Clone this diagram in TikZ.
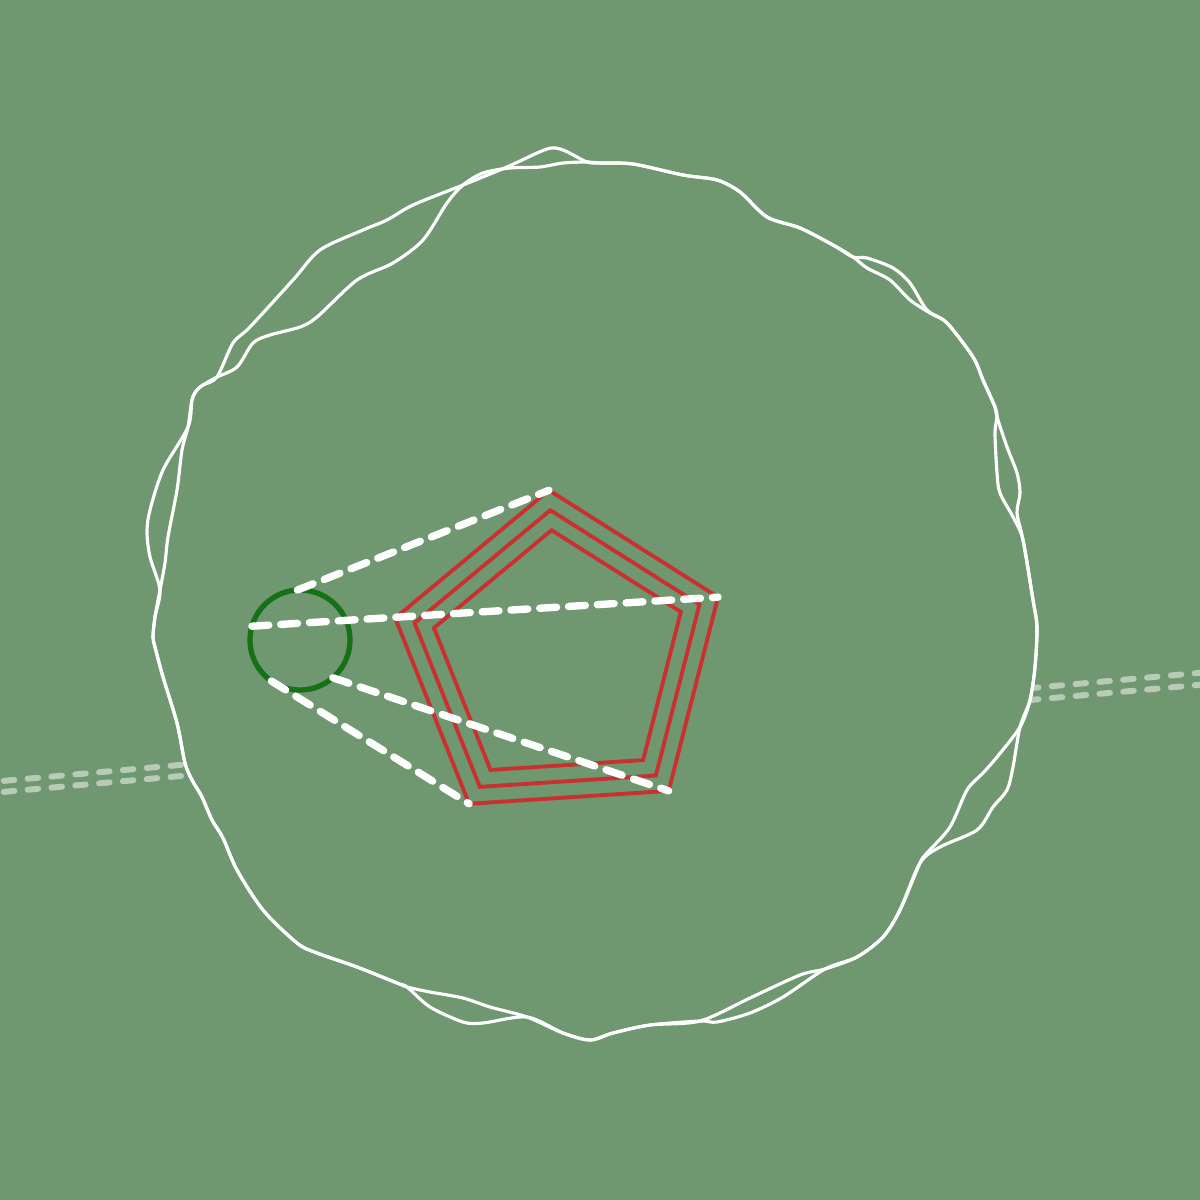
\documentclass[tikz,border=0pt]{standalone}
\usetikzlibrary{shapes.geometric}
\definecolor{fieldgreen}{HTML}{6F9770}
\definecolor{ringgreen}{HTML}{167016}
\definecolor{pentred}{HTML}{C93131}

\begin{document}
\begin{tikzpicture}[
    x=0.01cm, y=-0.01cm,
    wobble/.style={draw=white, line width=0.9pt, line join=round},
    track/.style={draw=white, draw opacity=0.5, line width=1.7pt, line cap=round, dash pattern=on 3pt off 3.8pt},
    pent/.style={regular polygon, regular polygon sides=5, regular polygon rotate=3.7, draw=pentred, line width=1.1pt, inner sep=0pt, outer sep=0pt},
    ring/.style={circle, draw=ringgreen, line width=1.5pt, minimum size=1cm, inner sep=0pt, outer sep=0pt},
    ray/.style={white, line width=2.1pt, line cap=round, dash pattern=on 4.8pt off 3.4pt}
]

\useasboundingbox (0,0) rectangle (1200,1200);
\fill[fieldgreen] (0,0) rectangle (1200,1200);

% the two faint lines behind the blob
\begin{scope}
\clip (0,0) rectangle (1200,1200);
\coordinate (tl1) at (-20,783);
\coordinate (tr1) at (1220,671);
\coordinate (tl2) at (-20,794);
\coordinate (tr2) at (1220,683);
\draw[track] (tl1) -- (tr1);
\draw[track] (tl2) -- (tr2);
\end{scope}

% outer outline
\filldraw[wobble, fill=fieldgreen] plot[smooth cycle, tension=0.5] coordinates {
  (587,162) (600,163) (633,164) (683,175) (717,180) (740,192) (767,217) (800,228)
  (833,245) (853,257) (867,258) (893,268) (910,283) (927,310) (947,323) (973,357)
  (983,380) (995,407) (997,417) (1007,447) (1017,473) (1020,493) (1017,513) (1023,540)
  (1033,600) (1037,627) (1035,667) (1030,700) (1020,727) (1013,767) (1007,790) (993,807)
  (977,830) (940,847) (920,863) (900,910) (883,937) (857,957) (825,969) (783,997)
  (750,1013) (717,1022) (700,1021) (650,1025) (613,1033) (590,1040) (563,1033) (527,1017)
  (483,1023) (463,1022) (430,1007) (407,987) (397,983) (357,967) (317,953) (297,943)
  (263,910) (237,870) (223,838) (212,820) (202,797) (192,780) (185,763) (177,723)
  (163,677) (155,647) (153,637) (155,617) (160,590) (150,557) (147,532) (150,510)
  (163,470) (188,427) (192,400) (197,390) (203,385) (217,377) (233,343) (250,327)
  (293,280) (320,250) (363,230) (387,220) (413,205) (463,185) (507,167) (547,149)
  (563,150)};

% inner outline
\draw[wobble] plot[smooth cycle, tension=0.5] coordinates {
  (587,162) (600,163) (633,164) (683,175) (717,180) (740,192) (767,217) (800,228)
  (833,245) (853,257) (867,268) (890,280) (910,300) (930,313) (947,323) (973,357)
  (983,380) (995,407) (997,417) (995,433) (997,473) (1000,493) (1013,517) (1023,540)
  (1033,600) (1037,627) (1035,667) (1030,700) (1020,727) (997,757) (983,773) (967,790)
  (950,827) (927,853) (920,863) (900,910) (883,937) (857,957) (825,969) (800,975)
  (750,998) (700,1021) (650,1025) (613,1033) (590,1040) (563,1033) (527,1017) (490,1007)
  (463,998) (430,992) (407,987) (397,983) (357,967) (317,953) (297,943) (263,910)
  (237,870) (223,838) (212,820) (202,797) (192,780) (185,763) (177,723) (163,677)
  (155,647) (153,637) (155,617) (160,590) (165,563) (168,537) (177,490) (182,450)
  (188,427) (192,400) (197,390) (203,385) (217,377) (237,367) (253,343) (270,335)
  (300,327) (317,317) (357,280) (393,263) (423,240) (447,203) (463,185) (483,173)
  (510,168) (540,167) (563,163)};

\node[pent, minimum size=3.4cm] (outer) at (560,660) {};
\node[pent, minimum size=3.0cm] (middle) at (560,660) {};
\node[pent, minimum size=2.6cm] (inner) at (560,660) {};

\node[ring] (ring) at (300,640) {};

\draw[ray] (ring.93) -- (outer.corner 1);
\draw[ray] (ring.164) -- (outer.corner 5);
\draw[ray] (ring.-49) -- (outer.corner 4);
\draw[ray] (ring.235) -- (outer.corner 3);

\end{tikzpicture}
\end{document}
